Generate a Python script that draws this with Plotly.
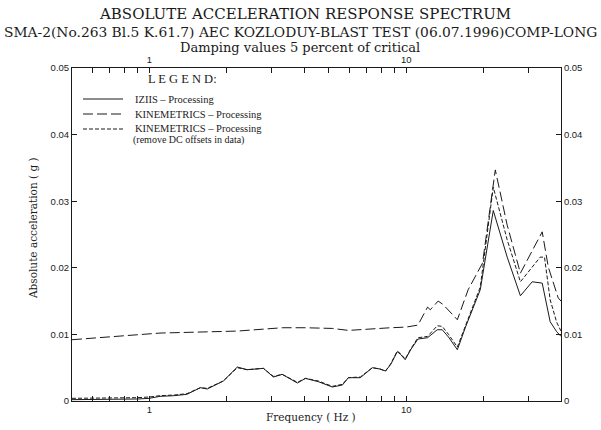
import plotly.graph_objects as go

# ---------------- data ----------------
f_iziis = [0.5, 0.6, 0.7, 0.8, 0.9, 1.0, 1.1, 1.25, 1.4, 1.58, 1.68, 1.94, 2.2, 2.4, 2.6,
           2.78, 3.04, 3.29, 3.77, 4.05, 4.55, 5.15, 5.64, 5.95, 6.62, 7.38, 7.9, 8.3, 8.7,
           9.22, 9.5, 9.9, 10.4, 11.1, 12.1, 13.2, 13.8, 14.6, 15.8, 17.0, 19.4, 21.8,
           24.7, 27.8, 30.9, 33.8, 36.3, 38.5, 40.0]
a_iziis = [0.0002, 0.0002, 0.0002, 0.0003, 0.0003, 0.0004, 0.0007, 0.0008, 0.001, 0.002,
           0.0018, 0.003, 0.0051, 0.0047, 0.0048, 0.0049, 0.0036, 0.004, 0.0027, 0.0034,
           0.0029, 0.0021, 0.0024, 0.0035, 0.0035, 0.005, 0.0048, 0.0045, 0.0055, 0.0074,
           0.007, 0.0062, 0.0077, 0.0093, 0.0095, 0.0107, 0.0107, 0.0096, 0.0077, 0.0111,
           0.0167, 0.0286, 0.0216, 0.0158, 0.0179, 0.0177, 0.0119, 0.0104, 0.0097]

f_kin = [0.5, 0.6, 0.8, 1.1, 1.4, 1.6, 2.2, 2.8, 3.3, 4.0, 5.15, 5.95, 7.0, 8.7, 10.0, 11.1,
         12.1, 12.4, 13.3, 13.9, 15.8, 17.4, 19.8, 22.2, 24.7, 27.8, 33.8, 35.7, 39.0, 40.0]
a_kin = [0.0092, 0.0094, 0.0098, 0.0102, 0.0103, 0.0104, 0.0105, 0.0108, 0.011, 0.011,
         0.0109, 0.0106, 0.0108, 0.011, 0.0111, 0.0114, 0.0141, 0.0137, 0.015, 0.0145,
         0.0122, 0.0167, 0.0207, 0.0347, 0.0264, 0.0192, 0.0254, 0.0201, 0.0155, 0.015]

f_dc = [0.5, 0.6, 0.7, 0.8, 0.9, 1.0, 1.1, 1.25, 1.4, 1.58, 1.68, 1.94, 2.2, 2.4, 2.6,
        2.78, 3.04, 3.29, 3.77, 4.05, 4.55, 5.15, 5.64, 5.95, 6.62, 7.38, 7.9, 8.3, 8.7,
        9.22, 9.5, 9.9, 10.4, 11.1, 12.1, 13.2, 13.8, 14.6, 15.8, 17.0, 19.4, 21.8,
        24.7, 27.8, 33.2, 34.5, 36.3, 38.5, 40.0]
a_dc = [0.0004, 0.0004, 0.0004, 0.0005, 0.0005, 0.0006, 0.0008, 0.0009, 0.0011, 0.002,
        0.0019, 0.003, 0.005, 0.0047, 0.0048, 0.0049, 0.0037, 0.004, 0.0028, 0.0034,
        0.003, 0.0022, 0.0025, 0.0035, 0.0036, 0.005, 0.0048, 0.0045, 0.0056, 0.0075,
        0.0071, 0.0063, 0.0078, 0.0095, 0.0097, 0.0113, 0.0112, 0.0100, 0.0081, 0.0113,
        0.0171, 0.0321, 0.0242, 0.0179, 0.0216, 0.0216, 0.0152, 0.0118, 0.0105]

x_tickvals = [0.6, 0.7, 0.8, 0.9, 1, 2, 3, 4, 5, 6, 7, 8, 9, 10, 20, 30]
x_ticktext = ["", "", "", "", "1", "", "", "", "", "", "", "", "", "10", "", ""]
y_tickvals = [0, 0.01, 0.02, 0.03, 0.04, 0.05]
y_ticktext = ["0", "0.01", "0.02", "0.03", "0.04", "0.05"]

series_names = ["IZIIS \u2013 Processing", "KINEMETRICS \u2013 Processing",
                "KINEMETRICS \u2013 Processing"]

# ---------------- figure ----------------
INK = "#1a1a1a"
SERIF = "DejaVu Serif"
LEG = "Liberation Serif"
SANS = "Liberation Sans"
DASH = "10px,4px"
DOT = "4px,2px"

fig = go.Figure()
fig.add_trace(go.Scatter(x=f_iziis, y=a_iziis, mode="lines",
                         line=dict(color=INK, width=1), showlegend=False,
                         name=series_names[0]))
fig.add_trace(go.Scatter(x=f_kin, y=a_kin, mode="lines",
                         line=dict(color=INK, width=1, dash=DASH), showlegend=False,
                         name=series_names[1]))
fig.add_trace(go.Scatter(x=f_dc, y=a_dc, mode="lines",
                         line=dict(color=INK, width=1, dash=DOT), showlegend=False,
                         name=series_names[2]))
# invisible trace to anchor mirrored axes
fig.add_trace(go.Scatter(x=f_kin, y=a_kin, mode="lines", xaxis="x2", yaxis="y2",
                         line=dict(width=0), opacity=0, showlegend=False,
                         hoverinfo="skip"))

xr = [-0.30103, 1.60206]
axis_common = dict(showline=True, linecolor=INK, linewidth=1, ticks="inside",
                   ticklen=5, tickcolor=INK, tickwidth=1, showgrid=False,
                   zeroline=False, tickfont=dict(family=SANS, size=9.5, color=INK))

fig.update_layout(
    width=601, height=430, autosize=False,
    margin=dict(l=72, r=40, t=68, b=29),
    paper_bgcolor="white", plot_bgcolor="white",
    xaxis=dict(type="log", range=xr, tickmode="array", tickvals=x_tickvals,
               ticktext=x_ticktext, **axis_common),
    xaxis2=dict(type="log", range=xr, tickmode="array", tickvals=x_tickvals,
                ticktext=x_ticktext, overlaying="x", side="top", anchor="y",
                ticklabelstandoff=0, **axis_common),
    yaxis=dict(range=[0, 0.05], tickmode="array", tickvals=y_tickvals,
               ticktext=y_ticktext, **axis_common),
    yaxis2=dict(range=[0, 0.05], tickmode="array", tickvals=y_tickvals,
                ticktext=y_ticktext, overlaying="y", side="right", anchor="x",
                **axis_common),
)

def px(x):
    return (x - 72) / 489.0

def py(y):
    return (401 - y) / 333.0

ann = []
ann.append(dict(text="ABSOLUTE ACCELERATION RESPONSE SPECTRUM", x=px(305), y=py(14),
                font=dict(family=SERIF, size=15, color=INK)))
ann.append(dict(text="SMA-2(No.263 Bl.5 K.61.7) AEC KOZLODUY-BLAST TEST (06.07.1996)COMP-LONG",
                x=px(300), y=py(31.5), font=dict(family=SERIF, size=13.8, color=INK)))
ann.append(dict(text="Damping values 5 percent of critical", x=px(300), y=py(47.5),
                font=dict(family=SERIF, size=13, color=INK)))
ann.append(dict(text="Frequency ( Hz )", x=px(311), y=py(417),
                font=dict(family=SERIF, size=10.5, color=INK)))
ann.append(dict(text="Absolute acceleration ( g )", x=px(33), y=py(228), textangle=-90,
                font=dict(family=SERIF, size=10.5, color=INK)))
# legend text
ann.append(dict(text="L E G E N D:", x=px(147), y=py(79), xanchor="left",
                font=dict(family=LEG, size=12.5, color=INK)))
ann.append(dict(text=series_names[0], x=px(134), y=py(99), xanchor="left",
                font=dict(family=LEG, size=10.5, color=INK)))
ann.append(dict(text=series_names[1], x=px(134), y=py(114), xanchor="left",
                font=dict(family=LEG, size=10.5, color=INK)))
ann.append(dict(text=series_names[2], x=px(134), y=py(128.5), xanchor="left",
                font=dict(family=LEG, size=10.5, color=INK)))
ann.append(dict(text="(remove DC offsets in data)", x=px(132), y=py(140), xanchor="left",
                font=dict(family=LEG, size=10, color=INK)))
for a in ann:
    a.setdefault("xanchor", "center")
    a.update(xref="paper", yref="paper", yanchor="middle", showarrow=False,
             borderpad=0)
fig.update_layout(annotations=ann)

shapes = []
for yy, dash in [(99, "solid"), (114, DASH), (129, DOT)]:
    shapes.append(dict(type="line", xref="paper", yref="paper",
                       x0=px(83), x1=px(123), y0=py(yy), y1=py(yy),
                       line=dict(color=INK, width=1, dash=dash)))
fig.update_layout(shapes=shapes)

fig.write_html("out.html")
